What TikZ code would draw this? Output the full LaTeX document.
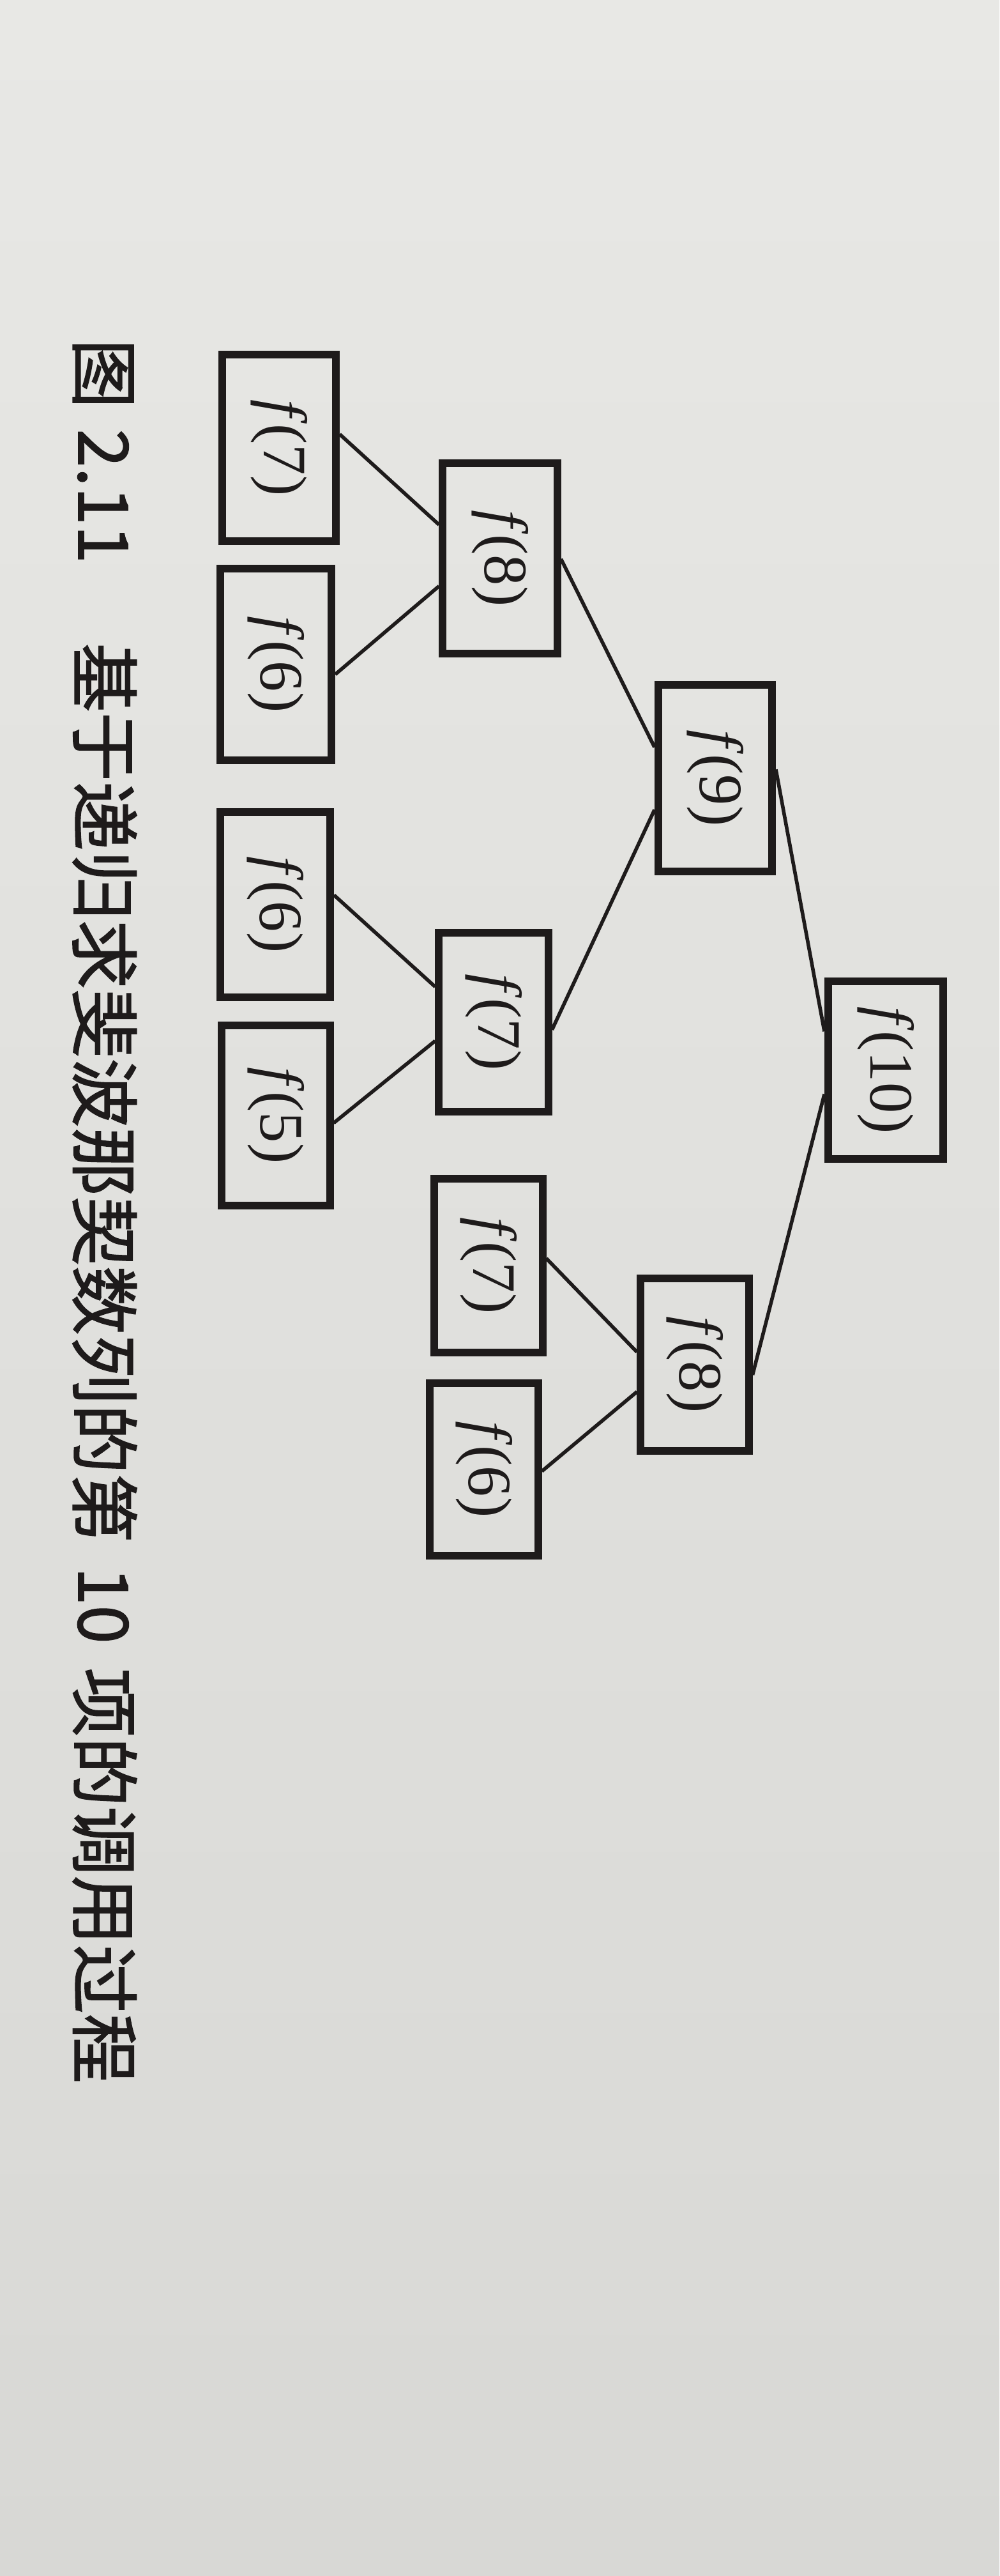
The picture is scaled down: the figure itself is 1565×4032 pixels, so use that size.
\documentclass[tikz,border=0pt]{standalone}
\usepackage{fontspec}
\newfontfamily\cjk{Noto Sans CJK SC}[FakeBold=1.4]
\newfontfamily\labfont{Liberation Serif}
\usetikzlibrary{calc}
\definecolor{papertop}{RGB}{232,232,229}
\definecolor{paperbot}{RGB}{216,216,213}
\definecolor{ink}{RGB}{30,27,27}
\begin{document}
\begin{tikzpicture}[x=0.01cm, y=-0.01cm,
  fbox/.style={draw=ink, line width=3.4pt, inner sep=0pt, text=ink,
               font=\labfont\fontsize{27.5}{30}\selectfont},
  edge/.style={draw=ink, line width=1.6pt}]
\shade[top color=papertop, bottom color=paperbot] (0,0) rectangle (1565,4032);
\useasboundingbox (0,0) rectangle (1565,4032);

% nodes
\node[fbox, minimum width=1.80cm, minimum height=2.77cm] (f10) at (1387,1675) {\rotatebox{-90}{\textit{f}(10)}};
\node[fbox, minimum width=1.78cm, minimum height=2.91cm] (f9)  at (1120,1218) {\rotatebox{-90}{\textit{f}(9)}};
\node[fbox, minimum width=1.69cm, minimum height=2.70cm] (f8b) at (1088,2136) {\rotatebox{-90}{\textit{f}(8)}};
\node[fbox, minimum width=1.79cm, minimum height=2.98cm] (f8a) at (783,874)   {\rotatebox{-90}{\textit{f}(8)}};
\node[fbox, minimum width=1.71cm, minimum height=2.80cm] (f7a) at (773,1600)  {\rotatebox{-90}{\textit{f}(7)}};
\node[fbox, minimum width=1.69cm, minimum height=2.72cm] (f7b) at (765,1981)  {\rotatebox{-90}{\textit{f}(7)}};
\node[fbox, minimum width=1.69cm, minimum height=2.70cm] (f6c) at (758,2300)  {\rotatebox{-90}{\textit{f}(6)}};
\node[fbox, minimum width=1.78cm, minimum height=2.92cm] (f7c) at (437,701)   {\rotatebox{-90}{\textit{f}(7)}};
\node[fbox, minimum width=1.74cm, minimum height=2.99cm] (f6a) at (432,1040)  {\rotatebox{-90}{\textit{f}(6)}};
\node[fbox, minimum width=1.72cm, minimum height=2.89cm] (f6b) at (431,1416)  {\rotatebox{-90}{\textit{f}(6)}};
\node[fbox, minimum width=1.69cm, minimum height=2.81cm] (f5)  at (432,1746)  {\rotatebox{-90}{\textit{f}(5)}};

% connectors
\draw[edge] ($(f10.north west)!0.29!(f10.south west)$) -- ($(f9.north east)!0.455!(f9.south east)$);
\draw[edge] ($(f10.north west)!0.63!(f10.south west)$) -- ($(f8b.north east)!0.557!(f8b.south east)$);
\draw[edge] ($(f9.north west)!0.34!(f9.south west)$) -- ($(f8a.north east)!0.503!(f8a.south east)$);
\draw[edge] ($(f9.north west)!0.663!(f9.south west)$) -- ($(f7a.north east)!0.54!(f7a.south east)$);
\draw[edge] ($(f8a.north west)!0.33!(f8a.south west)$) -- ($(f7c.north east)!0.43!(f7c.south east)$);
\draw[edge] ($(f8a.north west)!0.64!(f8a.south west)$) -- ($(f6a.north east)!0.55!(f6a.south east)$);
\draw[edge] ($(f7a.north west)!0.31!(f7a.south west)$) -- ($(f6b.north east)!0.45!(f6b.south east)$);
\draw[edge] ($(f7a.north west)!0.60!(f7a.south west)$) -- ($(f5.north east)!0.54!(f5.south east)$);
\draw[edge] ($(f8b.north west)!0.43!(f8b.south west)$) -- ($(f7b.north east)!0.46!(f7b.south east)$);
\draw[edge] ($(f8b.north west)!0.65!(f8b.south west)$) -- ($(f6c.north east)!0.51!(f6c.south east)$);

% caption
\node[font=\cjk\fontsize{30.8}{32}\selectfont, text=ink, rotate=-90, anchor=west, inner sep=0pt]
  (cap) at (164,530) {图\hspace{0.3em}2.11\hspace{1.15em}基于递归求斐波那契数列的第\hspace{0.35em}10\hspace{0.35em}项的调用过程};
\end{tikzpicture}
\end{document}
